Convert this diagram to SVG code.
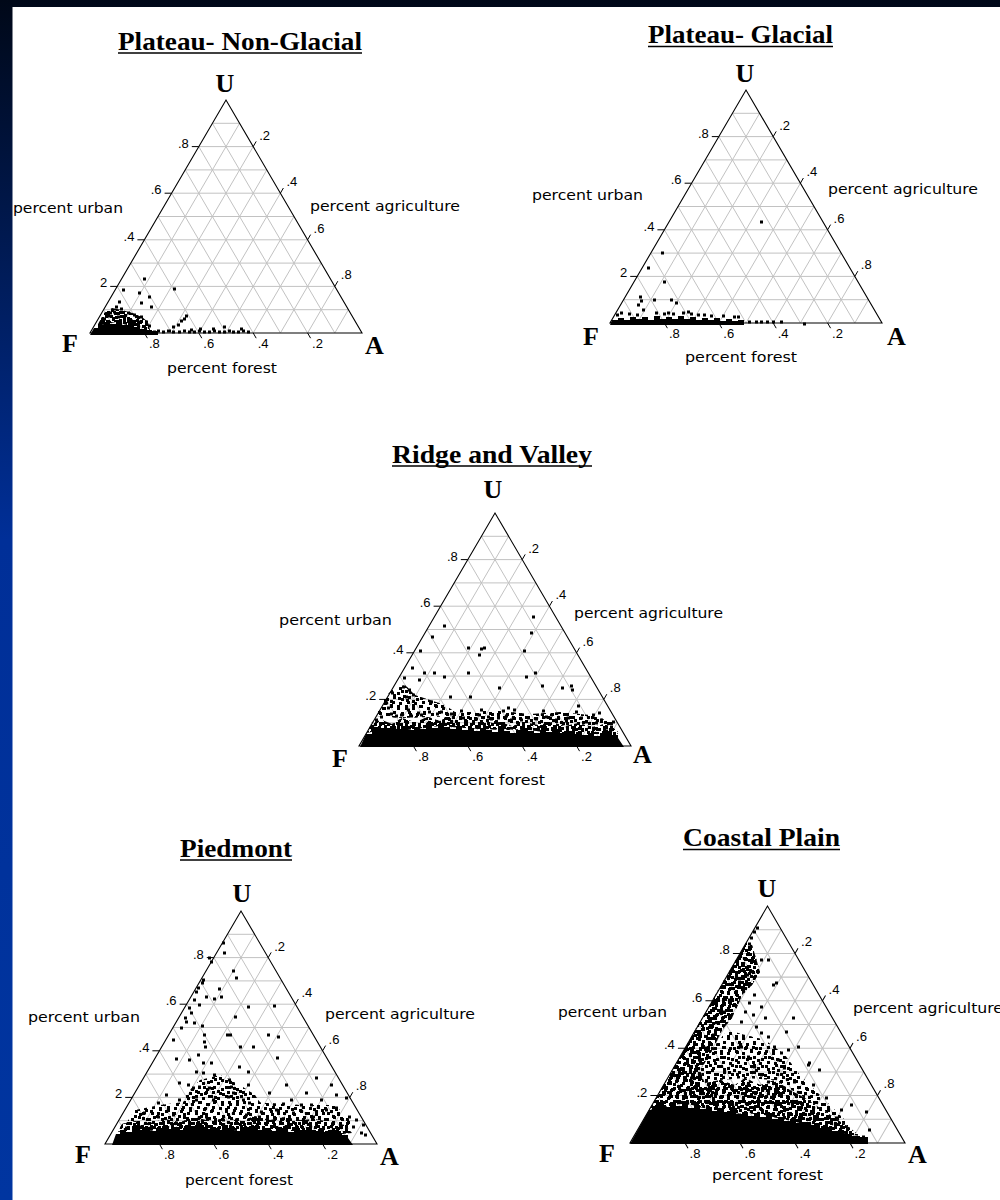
<svg xmlns="http://www.w3.org/2000/svg" xmlns:xlink="http://www.w3.org/1999/xlink" width="1000" height="1200" viewBox="0 0 1000 1200">
<style>
.grid{fill:none;stroke:#c2c2c2;stroke-width:1}
.out{fill:none;stroke:#000;stroke-width:1.1}
.tick{fill:none;stroke:#000;stroke-width:1}
.tk text{font-family:"Liberation Sans",Arial,sans-serif;font-size:13px;fill:#000}
.tk .e{text-anchor:end}
.ttl{font-family:"Liberation Serif","Times New Roman",serif;font-size:26px;font-weight:bold;fill:#000}
.ul{stroke:#000;stroke-width:1.5}
.ax{font-family:"DejaVu Sans","Liberation Sans",sans-serif;font-size:14px;fill:#000}
.cn{font-family:"Liberation Serif","Times New Roman",serif;font-size:26px;font-weight:bold;fill:#000}
.cu{text-anchor:middle}
.pts{fill:none;stroke:#000;stroke-width:3}
.solid{fill:#000}
</style>
<defs>
<linearGradient id="bg" x1="0" y1="0" x2="0" y2="1">
<stop offset="0" stop-color="#000818"/>
<stop offset="0.45" stop-color="#002f98"/>
<stop offset="1" stop-color="#0035a0"/>
</linearGradient>
<pattern id="pA" width="15" height="15" patternUnits="userSpaceOnUse"><path d="M0 0h3v3H0zM7 2h3v3H7zM11 8h3v3h-3zM3 6h3v3H3zM9 12h3v3H9zM2 11h3v3H2z"/></pattern>
<pattern id="pB" width="17" height="17" patternUnits="userSpaceOnUse"><path d="M1 1h3v3H1zM9 0h3v3H9zM13 6h3v3h-3zM5 8h3v3H5zM0 13h3v3H0zM10 12h3v3h-3zM14 14h3v3h-3z"/></pattern>
<pattern id="pC" width="22" height="22" patternUnits="userSpaceOnUse"><path d="M1 1h3v3H1zM9 3h3v3H9zM16 0h3v3h-3zM5 8h3v3H5zM13 9h3v3h-3zM19 12h3v3h-3zM2 15h3v3H2zM10 17h3v3h-3zM16 18h3v3h-3zM7 13h3v3H7z"/></pattern>
<pattern id="pD" width="13" height="13" patternUnits="userSpaceOnUse"><path d="M0 0h3v3H0zM6 3h3v3H6zM10 8h3v3h-3zM2 8h3v3H2zM7 10h3v3H7z"/></pattern>
<g id="frame">
<path class="grid" d="M13.6 -23.3H258.4M27.2 -46.6H244.8M40.8 -69.9H231.2M54.4 -93.2H217.6M68 -116.5H204M81.6 -139.8H190.4M95.2 -163.1H176.8M108.8 -186.4H163.2M122.4 -209.7H149.6M27.2 0L149.6 -209.7M54.4 0L163.2 -186.4M81.6 0L176.8 -163.1M108.8 0L190.4 -139.8M136 0L204 -116.5M163.2 0L217.6 -93.2M190.4 0L231.2 -69.9M217.6 0L244.8 -46.6M244.8 0L258.4 -23.3M27.2 0L13.6 -23.3M54.4 0L27.2 -46.6M81.6 0L40.8 -69.9M108.8 0L54.4 -93.2M136 0L68 -116.5M163.2 0L81.6 -139.8M190.4 0L95.2 -163.1M217.6 0L108.8 -186.4M244.8 0L122.4 -209.7"/>
<path class="out" d="M0 0H272L136 -233Z"/>
<path class="tick" d="M20.2 -46.6H27.2M47.4 -93.2H54.4M74.6 -139.8H81.6M101.8 -186.4H108.8M163.2 -186.4l3 -5.2M190.4 -139.8l3 -5.2M217.6 -93.2l3 -5.2M244.8 -46.6l3 -5.2M54.4 0l3 5.2M108.8 0l3 5.2M163.2 0l3 5.2M217.6 0l3 5.2"/>
</g>
<path id="r1d" d="M97 326L104 313L112 308L122 310L132 313L142 317L148 322L150 331L134 327L116 322Z"/>
<path id="r3a" d="M376 716L382 700L392 690L405 685L415 695L430 700L445 705L455 712L450 716L428 717L402 718Z"/>
<path id="r3b" d="M440 722L450 712L470 712L490 710L510 712L530 714L560 712L590 715L612 722L618 732L560 726Z"/>
<path id="r3d" d="M367 733L372 722L382 720L392 724L402 718L415 722L428 717L440 721L450 716L462 722L475 719L488 723L500 722L512 726L525 722L538 725L552 722L565 726L578 723L592 727L605 724L615 729L620 738L610 734L570 734L525 730L480 729L438 726L400 731L375 731Z"/>
<path id="r4a" d="M180 1118L185 1095L200 1080L220 1075L240 1085L255 1095L265 1110L270 1119L240 1121L210 1121Z"/>
<path id="r4b" d="M125 1125L135 1110L160 1105L200 1100L250 1102L300 1105L335 1105L350 1120L352 1130L300 1122L200 1120Z"/>
<path id="r4d" d="M118 1132L122 1124L135 1121L150 1123L165 1119L180 1122L195 1117L210 1121L225 1118L240 1121L255 1116L270 1120L285 1117L300 1120L315 1119L330 1122L345 1125L352 1133L342 1134L300 1131L240 1131L180 1130L125 1131Z"/>
<path id="r5m" d="M705 1083L700 1070L715 1045L728 1030L745 1035L765 1040L785 1055L800 1075L815 1090L830 1105L845 1120L850 1128L835 1118L805 1098L775 1080L745 1078L720 1080Z"/>
<path id="r5e" d="M649 1110L660.6 1090L672 1070L684 1050L695 1030L707 1010L718 990L730 970L742 950L746 943L752 945L756 958L760 972L752 985L742 995L738 1005L732 1018L722 1030L715 1045L708 1058L700 1070L705 1085L690 1095L680 1104Z"/>
<path id="r5b" d="M680 1104L690 1090L705 1083L720 1080L735 1085L745 1078L760 1085L775 1080L790 1090L805 1098L820 1108L835 1118L850 1128L860 1136L845 1134L830 1131L800 1123L760 1114L722 1113L692 1105Z"/>
</defs>
<rect x="0" y="0" width="1000" height="1200" fill="url(#bg)"/>
<rect x="12.5" y="7" width="987.5" height="1193" fill="#fff"/>

<g id="plateau-non-glacial">
<text class="ttl" x="118" y="50" textLength="244" lengthAdjust="spacingAndGlyphs">Plateau- Non-Glacial</text>
<line class="ul" x1="118" y1="53" x2="362" y2="53"/>
<use href="#frame" transform="translate(90,333)"/>
<g class="tk" transform="translate(90,333)">
<text class="e" x="17.2" y="-45.6">2</text><text class="e" x="44.4" y="-92.2">.4</text><text class="e" x="71.6" y="-138.8">.6</text><text class="e" x="98.8" y="-185.4">.8</text>
<text x="169.2" y="-193.4">.2</text><text x="196.4" y="-146.8">.4</text><text x="223.6" y="-100.2">.6</text><text x="250.8" y="-53.6">.8</text>
<text x="58.9" y="15">.8</text><text x="113.3" y="15">.6</text><text x="167.7" y="15">.4</text><text x="222.1" y="15">.2</text>
</g>
<use href="#r1d" fill="url(#pA)"/><use href="#r1d" fill="url(#pB)"/><use href="#r1d" fill="url(#pC)"/><use href="#r1d" fill="url(#pD)"/>
<path class="solid" d="M90 335L94 328H98V325H104V322H110V324H116V322H122V325H128V324H134V327H140V329H146V330H152V331H158V335Z"/>
<path class="pts" d="M122 290h3M143 279h3M138 293h3M148 297h3M140 303h3M150 307h3M173 289h3M118 302h3M113 312h3M120 309h3M127 313h3M133 315h3M140 317h3M117 317h3M123 320h3M130 321h3M137 322h3M145 322h3M148 326h3M107 316h3M103 319h3M109 313h3M115 307h3M185 316h3M183 319h3M180 321h3M177 325h3M172 327h3M168 331h3M153 332h3M157 331h3M162 332h3M167 331h3M172 332h3M178 332h3M183 331h3M188 332h3M193 332h3M198 331h3M203 332h3M208 332h3M213 331h3M218 332h3M223 332h3M228 331h3M232 332h3M237 332h3M242 331h3M247 332h3M223 327h3M240 329h3M212 329h3M199 329h3M190 330h3"/>
<text class="cn cu" x="225" y="92">U</text>
<text class="cn" x="62" y="352">F</text>
<text class="cn" x="365" y="354">A</text>
<text class="ax" x="13" y="213" textLength="110" lengthAdjust="spacingAndGlyphs">percent urban</text>
<text class="ax" x="310" y="211" textLength="150" lengthAdjust="spacingAndGlyphs">percent agriculture</text>
<text class="ax" x="167" y="373" textLength="110" lengthAdjust="spacingAndGlyphs">percent forest</text>
</g>

<g id="plateau-glacial">
<text class="ttl" x="648" y="43" textLength="185" lengthAdjust="spacingAndGlyphs">Plateau- Glacial</text>
<line class="ul" x1="648" y1="46.5" x2="833" y2="46.5"/>
<use href="#frame" transform="translate(610,323)"/>
<g class="tk" transform="translate(610,323)">
<text class="e" x="17.2" y="-45.6">2</text><text class="e" x="44.4" y="-92.2">.4</text><text class="e" x="71.6" y="-138.8">.6</text><text class="e" x="98.8" y="-185.4">.8</text>
<text x="169.2" y="-193.4">.2</text><text x="196.4" y="-146.8">.4</text><text x="223.6" y="-100.2">.6</text><text x="250.8" y="-53.6">.8</text>
<text x="58.9" y="15">.8</text><text x="113.3" y="15">.6</text><text x="167.7" y="15">.4</text><text x="222.1" y="15">.2</text>
</g>
<path class="solid" d="M610 325L612 320H618V318H624V320H630V317H636V319H642V317H648V320H654V316H660V319H666V317H672V319H678V316H684V319H690V317H696V320H702V318H708V320H714V318H720V321H726V319H732V321H738V320H744V325Z"/>
<path class="pts" d="M661 253h3M647 268h3M663 282h3M639 297h3M637 305h3M642 310h3M653 300h3M670 300h3M675 303h3M687 312h3M663 314h3M620 313h3M760 222h3M640 301h3M616 315h3M628 314h3M636 315h3M655 313h3M667 313h3M672 314h3M682 313h3M690 314h3M697 315h3M703 315h3M710 316h3M733 317h3M737 317h3M748 322h3M755 322h3M760 322h3M766 322h3M772 322h3M780 322h3M803 324h3M722 316h3"/>
<text class="cn cu" x="745" y="82">U</text>
<text class="cn" x="583" y="345">F</text>
<text class="cn" x="887" y="345">A</text>
<text class="ax" x="532" y="200" textLength="111" lengthAdjust="spacingAndGlyphs">percent urban</text>
<text class="ax" x="828" y="194" textLength="150" lengthAdjust="spacingAndGlyphs">percent agriculture</text>
<text class="ax" x="685" y="362" textLength="112" lengthAdjust="spacingAndGlyphs">percent forest</text>
</g>

<g id="ridge-and-valley">
<text class="ttl" x="392" y="463" textLength="200" lengthAdjust="spacingAndGlyphs">Ridge and Valley</text>
<line class="ul" x1="392" y1="466" x2="592" y2="466"/>
<use href="#frame" transform="translate(359,746)"/>
<g class="tk" transform="translate(359,746)">
<text class="e" x="17.2" y="-45.6">.2</text><text class="e" x="44.4" y="-92.2">.4</text><text class="e" x="71.6" y="-138.8">.6</text><text class="e" x="98.8" y="-185.4">.8</text>
<text x="169.2" y="-193.4">.2</text><text x="196.4" y="-146.8">.4</text><text x="223.6" y="-100.2">.6</text><text x="250.8" y="-53.6">.8</text>
<text x="58.9" y="15">.8</text><text x="113.3" y="15">.6</text><text x="167.7" y="15">.4</text><text x="222.1" y="15">.2</text>
</g>
<use href="#r3a" fill="url(#pA)"/><use href="#r3a" fill="url(#pC)"/>
<use href="#r3b" fill="url(#pA)"/><use href="#r3b" fill="url(#pC)"/>
<use href="#r3d" fill="url(#pA)"/><use href="#r3d" fill="url(#pB)"/><use href="#r3d" fill="url(#pC)"/><use href="#r3d" fill="url(#pD)"/>
<path class="solid" d="M360 747L366 734H372V730H378V728H384V731H390V727H396V729H402V726H408V730H414V727H420V729H426V725H432V728H438V724H444V727H450V729H456V726H462V730H468V728H474V731H480V728H486V730H492V732H498V729H504V731H510V733H516V730H522V728H528V731H534V733H540V730H546V732H552V729H558V733H564V731H570V734H576V732H582V735H588V733H594V736H600V733H606V731H612V735H618V738L624 747Z"/>
<path class="pts" d="M532 617h3M530 633h3M443 626h3M431 637h3M419 651h3M467 648h3M478 655h3M483 648h3M480 649h3M523 651h3M411 668h3M423 673h3M433 673h3M443 677h3M418 680h3M467 673h3M534 673h3M525 677h3M541 686h3M498 688h3M561 688h3M570 686h3M571 690h3M403 678h3M402 687h3M408 690h3M405 697h3M391 693h3M412 695h3M430 702h3M449 697h3M469 697h3M460 711h3M478 715h3M487 717h3M502 711h3M507 708h3M513 710h3M497 718h3M510 720h3M550 715h3M567 718h3M577 706h3M592 715h3M605 731h3M385 703h3M387 708h3M397 707h3M407 710h3M417 713h3M380 717h3M390 714h3M400 715h3M410 716h3M420 715h3M436 714h3M440 712h3M375 720h3M395 716h3M428 712h3M450 714h3M462 718h3M475 719h3M490 719h3M520 720h3M535 719h3M555 720h3M565 721h3M585 722h3M595 723h3M600 720h3M580 718h3M545 717h3M527 718h3M505 716h3M542 711h3M575 712h3M610 727h3M612 722h3M598 713h3M480 710h3"/>
<text class="cn cu" x="493" y="498">U</text>
<text class="cn" x="332" y="767">F</text>
<text class="cn" x="633" y="763">A</text>
<text class="ax" x="279" y="625" textLength="113" lengthAdjust="spacingAndGlyphs">percent urban</text>
<text class="ax" x="574" y="618" textLength="149" lengthAdjust="spacingAndGlyphs">percent agriculture</text>
<text class="ax" x="433" y="785" textLength="112" lengthAdjust="spacingAndGlyphs">percent forest</text>
</g>

<g id="piedmont">
<text class="ttl" x="180" y="857" textLength="112" lengthAdjust="spacingAndGlyphs">Piedmont</text>
<line class="ul" x1="180" y1="860" x2="292" y2="860"/>
<use href="#frame" transform="translate(105,1144)"/>
<g class="tk" transform="translate(105,1144)">
<text class="e" x="17.2" y="-45.6">2</text><text class="e" x="44.4" y="-92.2">.4</text><text class="e" x="71.6" y="-138.8">.6</text><text class="e" x="98.8" y="-185.4">.8</text>
<text x="169.2" y="-193.4">.2</text><text x="196.4" y="-146.8">.4</text><text x="223.6" y="-100.2">.6</text><text x="250.8" y="-53.6">.8</text>
<text x="58.9" y="15">.8</text><text x="113.3" y="15">.6</text><text x="167.7" y="15">.4</text><text x="222.1" y="15">.2</text>
</g>
<use href="#r4a" fill="url(#pA)"/><use href="#r4a" fill="url(#pC)"/>
<use href="#r4b" fill="url(#pA)"/><use href="#r4b" fill="url(#pC)"/>
<use href="#r4d" fill="url(#pA)"/><use href="#r4d" fill="url(#pB)"/><use href="#r4d" fill="url(#pC)"/><use href="#r4d" fill="url(#pD)"/>
<path class="solid" d="M112 1145L116 1134H120V1130H126V1132H132V1128H138V1130H144V1127H150V1131H156V1128H162V1126H168V1129H174V1127H180V1130H186V1126H192V1128H198V1125H204V1129H210V1127H216V1130H222V1126H228V1128H234V1131H240V1127H246V1129H252V1126H258V1130H264V1128H270V1131H276V1127H282V1129H288V1132H294V1128H300V1130H306V1127H312V1131H318V1129H324V1132H330V1130H336V1133H342V1135H348V1138L353 1145Z"/>
<path class="pts" d="M222 943h3M223 953h3M232 971h3M235 978h3M218 989h3M220 997h3M213 999h3M205 997h3M201 983h3M195 992h3M198 1005h3M190 1013h3M185 1022h3M193 1023h3M201 1026h3M234 1017h3M247 1007h3M273 1006h3M226 1035h3M229 1035h3M267 1035h3M277 1037h3M203 1035h3M203 1042h3M204 1047h3M239 1047h3M252 1047h3M276 1058h3M175 1059h3M188 1060h3M197 1055h3M202 1063h3M210 1063h3M238 1067h3M247 1072h3M195 1072h3M202 1073h3M213 1075h3M178 1083h3M187 1085h3M192 1088h3M198 1087h3M208 1088h3M228 1080h3M230 1087h3M232 1093h3M247 1085h3M285 1085h3M268 1093h3M305 1093h3M315 1078h3M165 1095h3M157 1103h3M178 1100h3M195 1100h3M212 1100h3M227 1097h3M242 1100h3M248 1103h3M143 1113h3M157 1117h3M172 1115h3M183 1117h3M195 1113h3M205 1117h3M222 1120h3M235 1120h3M245 1115h3M258 1117h3M275 1110h3M292 1113h3M312 1117h3M325 1110h3M335 1108h3M352 1127h3M360 1133h3M125 1128h3M138 1127h3M208 958h3M210 962h3M202 980h3M197 988h3M193 1000h3M188 1008h3M184 1018h3M180 1028h3M172 1040h3M355 1120h3M362 1125h3M364 1135h3M290 1100h3M300 1105h3M320 1100h3M335 1095h3M345 1098h3M330 1085h3M310 1105h3M348 1117h3M260 1112h3M282 1104h3"/>
<text class="cn cu" x="242" y="902">U</text>
<text class="cn" x="75" y="1163">F</text>
<text class="cn" x="380" y="1165">A</text>
<text class="ax" x="28" y="1022" textLength="112" lengthAdjust="spacingAndGlyphs">percent urban</text>
<text class="ax" x="325" y="1019" textLength="150" lengthAdjust="spacingAndGlyphs">percent agriculture</text>
<text class="ax" x="185" y="1185" textLength="108" lengthAdjust="spacingAndGlyphs">percent forest</text>
</g>

<g id="coastal-plain">
<text class="ttl" x="683" y="846" textLength="157" lengthAdjust="spacingAndGlyphs">Coastal Plain</text>
<line class="ul" x1="683" y1="849.5" x2="840" y2="849.5"/>
<use href="#frame" transform="translate(630,1143) scale(1.011,1.017)"/>
<g class="tk" transform="translate(630,1143) scale(1.011,1.017)">
<text class="e" x="17.2" y="-45.6">.2</text><text class="e" x="44.4" y="-92.2">.4</text><text class="e" x="71.6" y="-138.8">.6</text><text class="e" x="98.8" y="-185.4">.8</text>
<text x="169.2" y="-193.4">.2</text><text x="196.4" y="-146.8">.4</text><text x="223.6" y="-100.2">.6</text><text x="250.8" y="-53.6">.8</text>
<text x="58.9" y="15">.8</text><text x="113.3" y="15">.6</text><text x="167.7" y="15">.4</text><text x="222.1" y="15">.2</text>
</g>
<use href="#r5m" fill="url(#pA)"/><use href="#r5m" fill="url(#pC)"/>
<use href="#r5e" fill="url(#pA)"/><use href="#r5e" fill="url(#pB)"/><use href="#r5e" fill="url(#pC)"/><use href="#r5e" fill="url(#pD)"/>
<use href="#r5b" fill="url(#pA)"/><use href="#r5b" fill="url(#pB)"/><use href="#r5b" fill="url(#pC)"/><use href="#r5b" fill="url(#pD)"/>
<path class="solid" d="M630 1144L649 1110H652V1106H658V1103H664V1107H670V1102H676V1106H682V1104H688V1108H694V1105H700V1109H706V1107H712V1111H718V1108H724V1112H730V1110H736V1114H742V1112H748V1116H754V1113H760V1117H766V1115H772V1119H778V1117H784V1121H790V1119H796V1123H802V1122H808V1125H814V1124H820V1128H826V1127H832V1131H838V1130H844V1134H852V1136H860V1137H868V1144Z"/>
<path class="pts" d="M756 928h3M753 932h3M750 938h3M748 944h3M760 960h3M767 960h3M772 985h3M775 983h3M753 995h3M760 1007h3M792 1018h3M797 1047h3M808 1063h3M850 1105h3M865 1112h3M868 1130h3M862 1137h3M755 1027h3M760 1033h3M767 1037h3M773 1047h3M780 1053h3M787 1050h3M777 1060h3M760 1075h3M767 1082h3M753 1067h3M747 1057h3M740 1047h3M785 1032h3M807 1065h3M835 1118h3M793 1082h3M748 1003h3M744 1012h3M752 1015h3M740 1022h3M764 1018h3M742 965h3M746 975h3M738 982h3M728 1000h3M735 992h3M722 1012h3M712 1035h3M705 1048h3M698 1060h3M690 1078h3M812 1085h3M825 1098h3M840 1110h3M818 1070h3M783 1068h3"/>
<text class="cn cu" x="767" y="897">U</text>
<text class="cn" x="599" y="1162">F</text>
<text class="cn" x="908" y="1163">A</text>
<text class="ax" x="558" y="1017" textLength="109" lengthAdjust="spacingAndGlyphs">percent urban</text>
<text class="ax" x="853" y="1013" textLength="150" lengthAdjust="spacingAndGlyphs">percent agriculture</text>
<text class="ax" x="712" y="1180" textLength="111" lengthAdjust="spacingAndGlyphs">percent forest</text>
</g>
</svg>
